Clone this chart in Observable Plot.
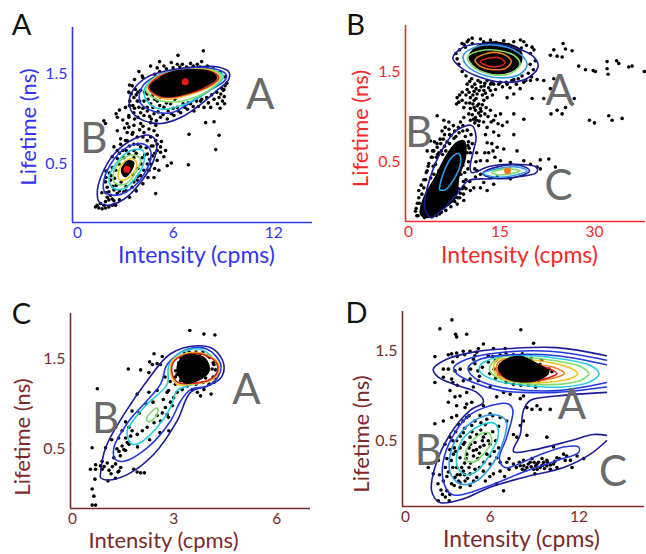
<!DOCTYPE html>
<html>
<head>
<meta charset="utf-8">
<script src="https://cdn.jsdelivr.net/npm/d3@7"></script>
<script src="https://cdn.jsdelivr.net/npm/@observablehq/plot@0.6"></script>
<style>
html,body{margin:0;padding:0;background:#fff}
#chart{position:relative;width:646px;height:554px;overflow:hidden}
</style>
</head>
<body>
<div id="chart"></div>
<script>
const xLabel = "Intensity (cpms)";
const yLabel = "Lifetime (ns)";
const yTicks = [0.5, 1.5];

const NAVY="#1c1c96", BLUE="#2438e0", SKY="#2f9be8", CYAN="#22cfd8", GREEN="#7ddc6a", YELLOW="#f0c41c", ORANGE="#f47b20", RED="#d9201f";

const scatterA = [[7.8,1.76],[6.29,1.71],[5.19,1.64],[5.89,1.63],[6.25,1.61],[7.04,1.62],[7.7,1.64],[7.44,1.61],[4.66,1.59],[5.05,1.57],[3.96,1.53],[4.16,1.48],[5.45,1.59],[6.55,1.61],[8.04,1.59],
[3.36,1.3],[3.56,1.37],[3.76,1.33],[3.66,1.24],[3.42,1.2],[3.16,1.13],[3.86,1.2],[4.06,1.32],[4.26,1.2],[3.96,1.13],[4.46,1.13],[4.86,1.06],[4.26,1.04],[3.66,1.07],[3.36,1.04],[5.25,1.02],[5.65,1.0],[6.05,1.04],[6.45,1.07],[6.85,1.11],[7.24,1.09],[7.84,1.13],[8.24,1.13],[8.64,1.17],[8.94,1.2],[9.0,1.32],[8.74,1.24],[8.44,1.22],[7.64,1.2],[7.04,1.17],[5.45,1.13],[5.05,1.2],[4.66,1.17],[4.46,1.28],[4.76,1.26],[5.25,1.24],[5.85,1.17],[6.25,1.13],[4.46,1.09],[4.06,1.07],[9.03,1.33],[8.84,1.28],[9.07,1.17],
[2.67,1.02],[3.36,1.02],[3.26,.95],[1.87,.98],[1.97,.95],[2.67,.87],[3.36,.91],[3.66,.93],[4.06,.95],[4.66,.96],[4.96,.93],[4.56,.89],[4.86,.87],[4.26,.85],[3.56,.83],[3.26,.85],[2.87,.78],[3.16,.76],[3.86,.8],[4.66,.8],[5.05,.82],[6.95,.83],[8.74,.82],[7.94,.96],[8.44,.97],[8.54,.66],[6.91,.49],[5.89,.51],[5.65,.48],[5.05,.54],[5.45,.58],[5.25,.69],[5.55,.65],[5.25,.63],[4.96,.17],[5.15,.43],[4.86,.35],[4.66,.5],[4.76,.59],[5.05,.65],[5.05,.72],[4.96,.76],[4.46,.76],[3.66,.72],[3.26,.76],[2.87,.72],[2.67,.65],[2.47,.69],[2.37,.58],
[1.37,.02],[1.57,.01],[1.77,0],[1.97,.01],[2.17,.02],[2.37,.04],[2.57,.04],[1.67,.06],[1.97,.08],[2.17,.1],[2.37,.11],[2.07,.13],[2.27,.15],[2.47,.09],[1.87,.04],[1.47,.04],
[2.07,.24],[2.27,.32],[2.57,.43],[2.77,.5],[3.06,.57],[3.36,.61],[3.66,.65],[4.06,.69],[4.46,.61],[4.46,.5],[4.26,.43],[3.86,.32],[3.56,.24],[3.06,.19],[2.67,.17],[2.47,.21],[2.17,.19],[1.97,.3],[2.37,.46],[2.67,.56],[3.66,.57],[4.16,.57],[4.56,.43],[4.06,.37],[3.66,.3],
[4.9,1.5],[5.2,1.53],[5.6,1.56],[6,1.57],[6.4,1.58],[6.8,1.58],[7.2,1.59],[7.6,1.58],[8,1.57],[8.4,1.56],[8.8,1.52],[9.1,1.47],[9.2,1.4],[9.1,1.37],[8.9,1.34],[8.6,1.3],[8.3,1.27],[8,1.24],[7.7,1.22],[7.4,1.2],[7.2,1.14],[6.9,1.18],[6.6,1.17],[6.3,1.09],[6,1.12],[5.7,1.09],[5.4,1.05],[5.1,1.08],[4.8,1.13],[4.6,1.03],[4.2,1.12],[4,1.2],[3.8,1.27],[3.6,1.15],[3.9,1.02],[3.5,1.28],[4.3,1.3],[4.5,1.22],[4.9,1.22],[5.2,1.15],[5.6,1.18],[6.1,1.22],[3.4,1.38],[3.7,1.44],[4.2,1.46],[3.9,1.3],[3.4,1.15],[3.7,1.12],[2.6,1.06],[2.8,1.1],[3,.99],[4.7,1.0],[5,.98],[5.9,1.06],[6.7,1.13],[7.5,1.14],[8.1,1.18],[8.8,1.12],[9.05,1.25],
[2,.42],[2.2,.4],[2,.35],[2.4,.25],[2.8,.2],[3.2,.25],[3.9,.45],[4.1,.5],[4.6,.55],[4.9,.45],[4.5,.35],[4.2,.28],[3.8,.2],[3.4,.13],[2.8,.1],[2.5,.05],[2,.18],[1.75,.18],[4.9,.62],[4.7,.7],[4.2,.8],[3.6,.85],[3,.65],[2.8,.62],[3.1,.9],[3.7,1.0],[4,.88],[4.2,.92],[3.9,.72],[3.4,.7],[4.8,.7],[4.4,.68],[5.3,.75],[3.2,.65],[3.8,.62],[4.3,.6],[2.3,.37],[2.5,.34],[2.9,.3],[3.6,.38],[3.9,.36],[3.2,.2],[2.6,.26]];

const contoursA = [
[[3.38,1.20],[3.68,1.34],[4.48,1.47],[5.68,1.54],[7.28,1.58],[8.68,1.58],[9.34,1.52],[9.28,1.43],[8.68,1.33],[7.68,1.17],[6.48,1.02],[5.28,.95],[4.28,.98],[3.58,1.07]],
[[3.98,1.26],[4.28,1.39],[5.28,1.50],[6.88,1.56],[8.48,1.56],[9.18,1.49],[9.08,1.43],[8.28,1.33],[7.08,1.19],[5.88,1.07],[4.78,1.09],[4.08,1.17]],
[[4.28,1.32],[4.68,1.43],[5.68,1.52],[7.08,1.55],[8.48,1.54],[9.0,1.48],[8.68,1.39],[7.68,1.26],[6.48,1.15],[5.28,1.11],[4.48,1.19]],
[[4.38,1.33],[4.88,1.44],[6.08,1.53],[8.48,1.54],[8.88,1.47],[8.48,1.37],[7.28,1.24],[6.08,1.19],[4.98,1.22]],
[[4.5,1.35],[4.96,1.46],[6.08,1.53],[8.28,1.54],[8.78,1.46],[8.28,1.37],[7.08,1.28],[5.68,1.22],[4.78,1.28]],
[[4.54,1.35],[4.98,1.45],[6.08,1.53],[8.24,1.53],[8.72,1.46],[8.24,1.38],[7.06,1.29],[5.66,1.24],[4.8,1.29]],
[[1.48,.19],[1.68,.35],[2.48,.61],[3.68,.78],[4.58,.82],[5.0,.74],[4.84,.54],[4.08,.30],[3.08,.11],[2.08,.04],[1.58,.08]],
[[1.84,.28],[2.28,.5],[3.28,.69],[4.28,.72],[4.68,.63],[4.28,.39],[3.38,.21],[2.48,.15],[1.92,.19]],
[[2.18,.35],[2.58,.5],[3.48,.65],[4.18,.65],[4.28,.54],[3.78,.35],[2.98,.22],[2.38,.24]],
[[2.44,.39],[2.88,.54],[3.58,.6],[4.04,.56],[3.78,.41],[3.08,.27],[2.52,.29]],
[[2.74,.41],[3.08,.52],[3.58,.56],[3.84,.5],[3.58,.39],[3.08,.32],[2.78,.33]]
];
const contourColorsA = [NAVY,BLUE,CYAN,GREEN,YELLOW,RED,NAVY,BLUE,CYAN,GREEN,YELLOW];
const blobsA = [
[[4.62,1.36],[5.05,1.44],[6.05,1.53],[8.14,1.53],[8.6,1.46],[8.14,1.39],[7.04,1.30],[5.65,1.25],[4.86,1.3]],
[[2.92,.43],[3.28,.53],[3.64,.52],[3.48,.42],[3.12,.36]]
];
const hotA = [[6.72,1.415],[3.24,.44]];

const scatterB = [[25.02,1.81],[25.4,1.75],[26.45,1.73],[23.54,1.74],[23,1.68],[24.07,1.67],[24.86,1.66],[27.5,1.56],[28.57,1.52],[29.8,1.51],[30.15,1.5],[32,1.61],[33.5,1.62],[33.86,1.59],[32,1.53],[32.16,1.47],[35.44,1.55],[35.97,1.56],[37.9,1.5],[29.2,.96],[30,.93],[32.27,1.01],[32.8,.96],[34.39,.98],
[20.1,1.2],[21.95,1.2],[23.1,1.03],[24.86,1.03],[26.8,1.2],[26.45,1.14],[25.4,1.1],[24.07,1.07],[23,1.31],[23.54,1.42],[21.95,1.4],[20.9,1.41],[19.84,1.4],[18.78,1.38],
[10.58,1.87],[11.9,1.86],[13.49,1.85],[15.6,1.84],[17.19,1.83],[18.78,1.83],[20.1,1.77],[19.84,1.7],[20.4,1.74],[8.2,1.64],[8.46,1.58],[8.99,1.81],[9.79,1.83],[18.25,1.85],[19.2,1.79],[18.4,1.76],[9.5,1.77],[10.6,1.81],[12.4,1.83],[14.4,1.82],[16.4,1.8],
[9,1.5],[9.6,1.45],[10.5,1.42],[11.5,1.4],[12.6,1.37],[13.7,1.38],[14.8,1.36],[16,1.38],[17.2,1.41],[18.5,1.45],[19.5,1.48],[20.3,1.52],[19.8,1.58],[20.6,1.62],[8,1.7],[8.6,1.74],[9.3,1.8],[10,1.85],[19.1,1.4],[17.6,1.36],[20,1.44],[10.2,1.39],[11,1.36],[12,1.33],[15.4,1.33],[16.6,1.32],
[9.79,1.36],[10.58,1.33],[11.9,1.38],[12.96,1.4],[14,1.36],[15.08,1.38],[16.13,1.36],[9.79,1.3],[11.2,1.31],[12.5,1.34],[13.5,1.36],[16.9,1.4],[17.9,1.42],[18.2,1.31],[10.1,1.27],[10.9,1.28],[11.7,1.29],[12.7,1.26],[13.2,1.32],[14.3,1.3],[13.8,1.24],[9,1.27],[8.6,1.24],[8.1,1.14],[9.6,1.24],[10.7,1.24],
[8.2,1.21],[8.46,1.16],[8.99,1.18],[9.26,1.1],[10.3,1.09],[11.1,1.07],[11.64,1.14],[12.43,1.18],[12.96,1.21],[13.49,1.29],[12.43,1.29],[11.37,1.25],[10.3,1.21],[11.9,1.09],[11.1,.99],[11.9,1.01],[13.49,1.07],[14.28,1.01],[15.08,1.03],[16.13,.94],[18.78,.97],[17.19,1.03],[16.13,1.21],[17.19,1.25],[12.96,.88],[14,.83],[14.8,.79],[17.19,.8],[12.96,.71],[14.55,.66],[17.7,.62],[13.2,.6],[15.6,.64],[5.03,1.01],[6.08,.96],[6.88,.94],[8.73,.94],[9.26,.99],[10.05,1.03],[10.7,1.14],[11.2,1.2],[11.6,1.04],[10.6,1.02],[9.6,1.15],[12.2,1.24],[11,.93],[11.6,.9],[10.3,.96],[12.8,1.1],[13.1,1.0],[13.6,.94],[10.2,1.15],[10.9,1.1],[11.4,1.12],[12.2,1.13],[12.6,1.03],[11.3,.96],[11.7,.95],[10.8,.97],[10.9,1.18],[12,1.06],[12.4,.94],[14,.96],[14.7,.92],[15.4,.9],[12.7,.8],[13.7,.7],[14.2,.55],[12.6,.6],[13.9,.62],
[3.97,.73],[3.44,.62],[4.23,.55],[5.03,.66],[4.76,.47],[5.29,.4],[4.5,.36],[3.44,.4],[2.91,.21],[2.12,.1],[10.84,.21],[8.2,.03],[9.26,.07],[10.3,.18],[11.9,.21],[12.96,.18],[12.43,.27],[14,.25],[11.9,.51],[12.96,.51],[15.08,.51],[16.66,.49],[18.78,.51],[21.4,.52],[22.75,.53],[23.8,.44],[21.4,.42],[20.9,.44],[19.84,.47],[11.37,.4],[11.1,.33],[11.9,.36],[14.55,.33],[16.66,.31],
[6.2,.8],[6.9,.86],[7.6,.9],[8.4,.88],[9.1,.9],[5.6,.7],[5.1,.58],[11.3,.6],[11.2,.5],[11,.42],[10.2,.28],[9.6,.2],[9.2,.14],[8.6,.1],[7.8,.06],[7.2,.0],[6.4,-.04],[5.4,-.08],[4.2,-.11],[3,-.12],[2,-.1],[1.7,-.02],[2.2,.04],[2.6,.14],[3.2,.3],[3.7,.48],[4.3,.62],
[6,.75],[6.6,.72],[7.2,.79],[7.8,.84],[8.5,.82],[9.1,.84],[9.8,.85],[10.4,.8],[10.6,.7],[10.3,.6],[10,.5],[9.9,.42],[9.6,.3],[9.2,.28],[9,.2],[8.7,.15],[8.3,.1],[7.5,.12],[6.9,.08],[6.2,.02],[5.7,-.06],[4.9,-.1],[1.8,-.1],[1.6,-.05],[1.9,.04],[2.1,.18],[2.5,.24],[2.9,.3],[3.3,.38],[3.6,.45],[4.1,.55],[4.5,.62],[5,.7],[5.5,.75],[4.6,.72],[5.8,.84],[6.3,.88],[7,.8],[8,.78],[9.5,.78],[10,.72],[10.1,.65],[5.7,.62],[6.2,.67],[9.8,.6],[9.9,.68],[8.9,.7],[9.3,.65],[8.7,.6],[9.1,.46],[8.8,.36],[8.4,.42],[9.4,.38],[9.3,.22],[8.4,.2],[8.1,.17],[7.7,.14],[6.5,.1],[6,.06],[5.6,.0],[4.3,.24],[4,.32],[4.4,.45],[4.9,.55],[5.3,.6],[5.9,.58],[6.4,.62],[7,.7],[7.7,.76],[8.2,.7]];

const contoursB = [
[[7.52,1.65],[9.2,1.77],[12.89,1.81],[17.1,1.77],[20.25,1.67],[21.04,1.55],[19.2,1.42],[15.5,1.38],[11.3,1.45],[8.68,1.55]],
[[9.2,1.68],[11.05,1.77],[14.7,1.79],[17.9,1.71],[19.3,1.58],[18.15,1.47],[15,1.43],[11.3,1.49],[9.47,1.59]],
[[9.84,1.66],[11.84,1.73],[15,1.73],[17.6,1.66],[18.15,1.57],[16.3,1.47],[13.4,1.47],[10.8,1.55]],
[[11.05,1.63],[12.9,1.7],[15.25,1.7],[16.8,1.62],[16.04,1.54],[13.94,1.52],[11.84,1.56]],
[[11.84,1.61],[13.4,1.65],[15,1.65],[15.8,1.6],[15,1.56],[13.15,1.56]],
[[3.05,0],[3.95,.33],[6.05,.66],[8.15,.85],[10.52,.9],[11.2,.77],[10.78,.62],[10.26,.44],[10.52,.38],[13.4,.45],[17.6,.47],[20.8,.44],[20.8,.38],[17.6,.33],[13.4,.31],[10.0,.29],[8.15,.14],[6.05,-.02],[4.0,-.12]],
[[5.42,.22],[6.05,.38],[7.36,.55],[8.42,.59],[8.78,.51],[7.89,.33],[6.31,.19],[5.42,.19]],
[[12.26,.37],[14.47,.44],[18.15,.46],[19.7,.4],[17.6,.33],[13.94,.32]],
[[12.36,.37],[14.47,.42],[17.9,.44],[19.3,.4],[17.36,.35],[14.2,.33]],
[[13.68,.38],[16.04,.42],[18.15,.40],[16.3,.36],[14.2,.36]]
];
const contourColorsB = [NAVY,SKY,GREEN,ORANGE,RED,NAVY,SKY,NAVY,SKY,GREEN];
const blobsB = [
[[10.1,1.66],[11.9,1.8],[15,1.82],[18.2,1.74],[18.2,1.58],[15.6,1.48],[11.9,1.52]],
[[2.38,-.08],[2.91,.1],[4.76,.33],[6.35,.55],[7.94,.7],[9.26,.73],[9.52,.55],[8.46,.33],[7.94,.1],[5.55,-.04],[3.44,-.12]]
];
const hotB = [[16.2,.4]];

const scatterC = [[3.47,1.82],[3.88,1.78],[4.2,1.77],[2.43,1.56],[2.3,1.47],[2.38,1.44],[2.52,1.45],[2.67,1.53],[2.62,1.44],[2.04,1.38],[1.68,1.39],[2.28,1.35],[.78,1.17],[.63,.51],[1.94,1.11],[2.28,1.13],[2.52,1.15],[2.81,1.13],[3.0,1.07],[2.91,1.02],[2.96,.98],[2.76,.96],[2.67,.9],[2.52,.87],[2.81,.88],[2.62,.81],[2.43,.79],[2.86,.7],[2.23,.74],[2.09,.7],[1.79,.92],[1.7,.74],[1.79,.7],[1.75,.64],[1.6,.62],[1.94,.66],[1.65,.57],[1.5,.53],[1.41,.47],[1.55,.49],[1.31,.74],[1.02,.51],[1.26,.4],[1.07,.34],[.92,.36],[.73,.32],[.58,.27],[.73,.27],[.92,.27],[1.12,.26],[1.31,.33],[1.46,.29],[1.41,.25],[.87,.31],[.71,.16],[1.09,.14],[1.31,.17],[1.84,.27],[1.94,.24],[2.15,.23],[2.04,.23],[.63,.05],[.68,-.03],[.63,-.13],[.73,-.13],[3.78,1.09],[4.09,1.11],[3.69,1.13],[3.88,1.16],[4.17,1.24],[4.03,1.22],[3.54,1.16],[3.25,1.16],[3.1,1.13],[4.17,1.44],[4.27,1.33],[3.78,1.56],[3.98,1.54],[3.59,1.54],[3.06,1.37],[3.2,1.52],[4.12,1.39],[4.2,1.29],[3.93,1.29],
[3.05,1.3],[3.15,1.46],[3.3,1.58],[3.45,1.58],[3.65,1.58],[3.85,1.58],[4.05,1.52],[4.15,1.46],[4.22,1.38],[4.15,1.3],[4.05,1.22],[3.85,1.24],[3.65,1.22],[3.4,1.2],[3.2,1.26],[3.05,1.22],[3.1,1.33],
[1.2,.6],[1.4,.62],[1.5,.7],[1.6,.8],[2,.9],[2.2,1.0],[2.4,1.02],[2.7,1.05],[2.85,1.15],[2.9,1.25],[2.75,1.3],[2.85,.85],[2.6,.68],[2.3,.6],[1.35,.5],[1.45,.42],[1.6,.48],[1.7,.55],[1.95,.52],[1.22,.3],[1.38,.24],[.98,.3],[1.18,.22]];

const contoursC = [
[[.87,.21],[1.02,.51],[1.55,.88],[2.23,1.26],[2.91,1.56],[3.69,1.65],[4.17,1.61],[4.46,1.44],[4.37,1.29],[3.98,1.2],[3.49,1.13],[3.1,.81],[2.43,.44],[1.65,.21],[1.07,.15],[.87,.18]],
[[1.31,.38],[1.26,.51],[1.7,.81],[2.62,1.22],[2.81,1.44],[3.4,1.61],[3.98,1.61],[4.37,1.44],[4.27,1.29],[3.98,1.2],[3.49,1.16],[3.2,1.03],[2.91,.81],[2.23,.51],[1.55,.36]],
[[1.7,.59],[1.65,.7],[2.13,.96],[2.81,1.22],[2.86,1.43],[3.2,1.57],[3.78,1.61],[4.27,1.44],[4.17,1.29],[3.4,1.2],[3.1,1.15],[2.91,.96],[2.52,.74],[2.04,.57],[1.79,.55]],
[[2.21,.83],[2.43,.94],[2.54,.95],[2.5,.87],[2.28,.8]],
[[2.91,1.35],[2.96,1.48],[3.25,1.55],[3.78,1.57],[4.25,1.48],[4.32,1.37],[4.07,1.26],[3.49,1.22],[3.1,1.22]],
[[2.95,1.35],[3.0,1.47],[3.27,1.54],[3.78,1.56],[4.22,1.47],[4.28,1.37],[4.05,1.27],[3.49,1.23],[3.12,1.24]]
];
const contourColorsC = [NAVY,BLUE,CYAN,GREEN,YELLOW,RED];
const blobsC = [[[3.1,1.39],[3.25,1.52],[3.59,1.55],[3.93,1.5],[4.03,1.37],[3.69,1.26],[3.3,1.24]]];
const hotC = [];

const scatterD = [[3.34,1.85],[2.53,1.75],[3.59,1.69],[3.66,1.66],[4.34,1.69],[8.0,1.74],[8.86,1.59],[5.47,1.58],[2.19,1.44],[3.1,1.46],[3.32,1.47],[3.66,1.48],[4.11,1.5],[4.57,1.5],[5.02,1.49],[5.13,1.53],[6.15,1.53],[6.94,1.53],[2.76,1.3],[3.1,1.3],[3.55,1.28],[2.19,1.15],[3.32,1.19],[2.76,1.21],[3.21,1.06],[3.1,.93],[3.55,.99],[3.89,1.0],[4.34,1.04],[4.79,1.1],[4.11,1.17],[4.57,1.19],[5.13,1.17],[5.92,1.1],[6.83,1.04],[6.37,.99],[7.28,1.02],[8.18,1.0],[7.96,.97],[8.41,.87],[8.75,.85],[9.31,.85],[9.99,.85],[9.09,.89],[4.34,.91],[4.23,.87],[4.68,.93],[5.47,.89],[3.66,.89],[2.76,.72],[2.19,.69],[3.32,.76],[3.66,.78],[4.34,.76],[5.24,.78],[5.92,.8],[6.6,.76],[7.05,.72],[7.96,.67],[8.18,.72],[7.5,.57],[7.73,.54],[8.41,.56],[9.76,.54],
[4.11,.46],[4.57,.54],[5.02,.57],[5.47,.54],[5.92,.46],[5.24,.43],[4.79,.39],[4.34,.35],[3.89,.31],[3.66,.2],[4.11,.16],[4.57,.13],[5.02,.09],[5.47,.16],[5.92,.24],[6.37,.31],[6.6,.16],[6.15,.13],[6.83,-.06],[6.37,.02],[3.32,.02],[3.0,-.06],[3.16,-.17],[2.42,-.17],[2.76,.05],[2.08,.13],[1.74,.2],[2.42,.28],[2.87,.46],[3.21,.54],[3.66,.5],[4.11,.59],[4.68,.67],[3.44,.35],[3.55,.09],[3.89,.03],[4.23,.05],[4.57,0],[5.5,.45],[5.7,.35],[5.1,.3],[4.6,.25],[4.2,.25],[3.9,.12],[3.4,.2],[3.1,.15],[5.3,.62],[4.9,.48],[5.6,.68],[6.1,.6],[3.6,.38],
[3,.3],[3.2,.4],[3.4,.5],[3.6,.6],[3.8,.68],[4.1,.72],[4.5,.78],[4.9,.72],[5.3,.7],[5.7,.74],[6.1,.78],[6.5,.66],[6.3,.5],[6.5,.42],[6.2,.38],[5.9,.33],[5.5,.26],[5.2,.2],[4.9,.18],[4.5,.2],[4.2,.12],[3.8,.05],[3.5,0],[3.2,-.1],[2.9,-.13],[2.6,-.05],[2.4,.02],[2.5,.12],[2.9,.2],[3.3,.28],[3.9,.42],[4.2,.48],[4.5,.42],[4.8,.33],[5.2,.36],[5.4,.5],[4.7,.6],[4.2,.64],[3.9,.55],[3.5,.42],[3,.1],[2.7,-.1],[3.9,-.02],[5.6,.05],[5.9,.1],[6.9,.1],[7.2,.18],[4,.2],[4.3,.3],[4.6,.46],[5,.4],[5.6,.58],[5.8,.5],[3.7,.12],[4.4,.08],[4.8,.05],
[7.5,.24],[7.96,.22],[8.41,.2],[8.86,.18],[9.31,.2],[9.76,.22],[10.21,.24],[9.99,.18],[9.54,.26],[9.09,.24],[8.63,.26],[8.18,.28],[10.44,.31],[10.89,.35],[11.35,.28],[11.8,.33],[12.25,.3],[10.21,.43],[7.05,.26],[6.6,.26],[8.95,.13],[8.29,.17],[9.76,.28],[9.43,.3],[8.75,.3],[10.44,.2],[11.46,.2],
[7.2,.3],[7.9,.26],[8.2,.22],[8.5,.24],[8.7,.21],[9,.22],[9.2,.26],[9.4,.22],[9.6,.19],[9.8,.26],[10,.23],[10.3,.27],[10.6,.3],[7.7,.2],[8.1,.18],[9.1,.18],[8.9,.26],[9.5,.23],[11,.28],[11.1,.33],
[5.4,1.32],[5.8,1.38],[5.9,1.25],[6.1,1.44],[9.4,1.4],[10.1,1.27],[6.3,1.2],[7.5,1.13],[8.5,1.12],[9.2,1.16],[5.8,1.45],[4.8,1.41],[4.6,1.3],[5.2,1.22],[3.4,1.38],[3.7,1.44],[4.2,1.46],[4.9,1.45],[3.9,1.3],[3.4,1.15],[3.7,1.12],[7,1.48],[7.5,1.46],[8.1,1.47],[8.7,1.42],[9.3,1.35],[9.9,1.3],[6.6,1.46],[6.3,1.4],[6.2,1.3],[6.5,1.24],[7,1.15],[8,1.12],[9,1.1],[4.9,1.36],[5.1,1.28]];

const contoursD = [
[[13.79,1.45],[10.44,1.54],[7.28,1.53],[4.79,1.49],[2.98,1.41],[2.08,1.3],[2.42,1.21],[3.66,1.12],[5.02,1.04],[5.47,.93],[4.57,.84],[3.21,.57],[2.19,.2],[1.97,-.06],[2.53,-.19],[4.11,-.15],[5.92,-.02],[8.18,.09],[10.89,.2],[12.7,.35],[13.79,.5]],
[[13.79,.56],[12.93,.57],[11.35,.5],[8.63,.39],[7.5,.38],[7.96,.57],[8.18,.84],[8.63,.95],[10.44,1.0],[13.79,1.04]],
[[13.79,1.4],[9.99,1.5],[6.37,1.48],[4.34,1.41],[3.48,1.32],[3.66,1.25],[4.79,1.15],[6.6,1.06],[8.18,1.04],[10.44,1.04],[13.79,1.1]],
[[13.79,1.35],[10.44,1.45],[7.28,1.46],[5.24,1.41],[4.45,1.32],[4.57,1.25],[5.47,1.15],[7.28,1.08],[10.44,1.06],[13.79,1.15]]
];
const contourColorsD = [NAVY,NAVY,BLUE,BLUE];
const closedContoursD = [
[[13.29,1.25],[12.7,1.34],[10.89,1.41],[8.63,1.45],[6.37,1.43],[5.24,1.34],[5.24,1.27],[6.37,1.17],[8.18,1.12],[10.89,1.1],[12.7,1.16]],
[[12.59,1.25],[12.02,1.33],[10.44,1.39],[8.18,1.43],[6.6,1.43],[5.88,1.32],[6.03,1.25],[7.05,1.17],[9.09,1.13],[11.12,1.14],[12.25,1.19]],
[[11.84,1.25],[11.23,1.32],[9.76,1.38],[7.5,1.41],[6.37,1.4],[6.19,1.28],[6.82,1.19],[8.63,1.15],[10.67,1.17],[11.57,1.21]],
[[10.94,1.25],[10.22,1.32],[9.09,1.35],[7.28,1.41],[6.49,1.38],[6.37,1.27],[7.05,1.19],[8.63,1.16],[10.22,1.2]],
[[10.44,1.25],[9.99,1.3],[9.09,1.34],[7.28,1.4],[6.6,1.36],[6.49,1.27],[7.16,1.19],[8.63,1.17],[9.99,1.21]],
[[3.32,-.1],[2.76,.05],[2.87,.35],[4.34,.76],[5.92,.89],[7.16,.91],[7.46,.84],[7.05,.54],[6.55,.3],[6.94,.2],[9.09,.33],[10.89,.43],[11.91,.43],[11.91,.37],[10.44,.28],[8.18,.15],[5.92,0],[4.11,-.1]],
[[3.89,.02],[3.21,.15],[3.44,.46],[4.79,.72],[6.26,.79],[7.01,.72],[6.83,.5],[5.92,.2],[4.79,.03]],
[[4.11,.13],[3.66,.24],[4,.5],[5.24,.67],[6.26,.69],[6.49,.57],[5.92,.35],[5.02,.16],[4.45,.12]],
[[4.34,.28],[4.29,.39],[5.13,.56],[5.81,.59],[6.03,.5],[5.47,.35],[4.75,.26]]
];
const closedColorsD = [CYAN,GREEN,YELLOW,ORANGE,RED,BLUE,SKY,CYAN,GREEN];
const blobsD = [[[6.49,1.32],[7.05,1.41],[7.96,1.44],[9.09,1.36],[9.88,1.27],[9.31,1.19],[7.96,1.16],[6.94,1.21]]];

const line = (pts, stroke, curve) => Plot.line(pts, {x:d=>d[0], y:d=>d[1], stroke, strokeWidth:1.6, curve});
const blob = pts => Plot.line(pts, {x:d=>d[0], y:d=>d[1], fill:"black", stroke:"black", curve:"catmull-rom-closed"});

function panel({left, top, margins, xDomain, yDomain, xTicks, zeroDx, xShift, color, scatter, closed, closedColors, open=[], openColors=[], blobs, blobsBehind, hot=[], hotColor, letter, letterAt, clusters, clusterNames, yLab, xLab, xLabSize=23}) {
  const [mt, mr, mb, ml] = margins;
  const fontFamily = "Lato, 'Open Sans', sans-serif";
  const marks = [
    Plot.dot(scatter, {x:d=>d[0], y:d=>d[1], r:1.8, fill:"black"}),
    ...(blobsBehind ? blobs.map(blob) : []),
    ...closed.map((p,i)=>line(p, closedColors[i], "catmull-rom-closed")),
    ...open.map((p,i)=>line(p, openColors[i], "catmull-rom")),
    ...(blobsBehind ? [] : blobs.map(blob)),
    Plot.dot(hot, {x:d=>d[0], y:d=>d[1], r:3.5, fill:hotColor}),
    Plot.ruleX([xDomain[0]], {stroke:color, strokeWidth:1.6}),
    Plot.ruleY([yDomain[0]], {stroke:color, strokeWidth:1.6}),
    Plot.axisY(yTicks, {tickSize:0, tickPadding:5, label:null, fill:color, fontSize:16, tickFormat:d=>d.toFixed(1)}),
    Plot.axisX([0], {tickSize:0, tickPadding:4, label:null, fill:color, fontSize:15.5, dx:zeroDx}),
    Plot.axisX(xTicks, {tickSize:0, tickPadding:4, label:null, fill:color, fontSize:15.5, dx:xShift}),
    Plot.text([yLabel], {frameAnchor:"left", textAnchor:"middle", lineAnchor:"middle", rotate:-90, dx:yLab[0], dy:yLab[1], fontSize:22, fill:color}),
    Plot.text([xLabel], {frameAnchor:"bottom", textAnchor:"middle", lineAnchor:"middle", dx:xLab[0], dy:xLab[1], fontSize:xLabSize, fill:color}),
    Plot.text(clusterNames, {x:(d,i)=>clusters[i][0], y:(d,i)=>clusters[i][1], fontSize:42, fill:"#6a6a6a"}),
    Plot.text([letter], {frameAnchor:"top-left", textAnchor:"middle", lineAnchor:"middle", dx:letterAt[0], dy:letterAt[1], fontSize:29, fill:"#111"})
  ];
  const svg = Plot.plot({
    width:323, height:277,
    marginTop:mt, marginRight:mr, marginBottom:mb, marginLeft:ml,
    x:{domain:xDomain}, y:{domain:yDomain},
    style:{position:"absolute", left:left+"px", top:top+"px", fontFamily, background:"transparent", overflow:"visible"},
    marks
  });
  document.getElementById("chart").appendChild(svg);
}

panel({left:0, top:0, margins:[27,11,55,72], xDomain:[0,14.31], yDomain:[-.152,2.02], xTicks:[6,12], zeroDx:5, xShift:0, color:"#3535f0",
  scatter:scatterA, closed:contoursA, closedColors:contourColorsA, blobs:blobsA, hot:hotA, hotColor:"#f01818",
  letter:"A", letterAt:[-51,-2], clusters:[[11.2,1.26],[1.27,.77]], clusterNames:["A","B"], yLab:[-44,2], xLab:[4,33]});

panel({left:323, top:0, margins:[25,1,56,82], xDomain:[0,38.1], yDomain:[-.163,2.01], xTicks:[15,30], zeroDx:3, xShift:0, color:"#f52a2a",
  scatter:scatterB, closed:contoursB, closedColors:contourColorsB, blobs:blobsB, blobsBehind:true, hot:hotB, hotColor:ORANGE,
  letter:"B", letterAt:[-50,0], clusters:[[24.5,1.28],[2.1,.81],[24.3,.22]], clusterNames:["A","B","C"], yLab:[-45,5], xLab:[-6,34]});

panel({left:0, top:277, margins:[36,13,46,70], xDomain:[0,6.98], yDomain:[-.168,2.01], xTicks:[3,6], zeroDx:2, xShift:0, color:"#7d2a2a",
  scatter:scatterC, closed:contoursC, closedColors:contourColorsC, blobs:blobsC, hot:hotC, hotColor:RED,
  letter:"C", letterAt:[-49,1], clusters:[[5.12,1.15],[1.02,.83]], clusterNames:["A","B"], yLab:[-48,26], xLab:[-27,32], xLabSize:22});

panel({left:323, top:277, margins:[34,2,48,79], xDomain:[0,16.36], yDomain:[-.235,1.944], xTicks:[6,12], zeroDx:3, xShift:-1, color:"#7d2a2a",
  scatter:scatterD, closed:closedContoursD, closedColors:closedColorsD, open:contoursD, openColors:contourColorsD, blobs:blobsD, hot:[], hotColor:RED,
  letter:"D", letterAt:[-46,2], clusters:[[11.46,.89],[1.74,.38],[14.24,.14]], clusterNames:["A","B","C"], yLab:[-41,25], xLab:[-2,33]});
</script>
</body>
</html>
